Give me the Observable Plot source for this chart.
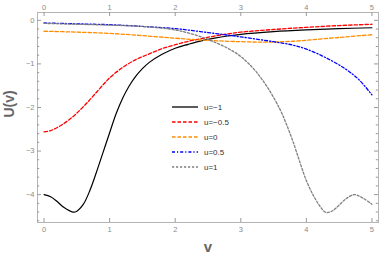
<!DOCTYPE html>
<html><head><meta charset="utf-8">
<script src="https://cdn.jsdelivr.net/npm/d3@7"></script>
<script src="https://cdn.jsdelivr.net/npm/@observablehq/plot@0.6"></script>
<style>
body{margin:0;background:#fff;font-family:"Liberation Sans",Arial,sans-serif;}
#wrap{position:relative;width:382px;height:262px;}
#legend{position:absolute;left:0;top:0;}
</style></head>
<body><div id="wrap"></div>
<script>
const seriesNames = ["u=\u22121","u=\u22120.5","u=0","u=0.5","u=1"];
const seriesColors = ["#000000","#ff0000","#ff8c00","#0000ff","#808080"];
const seriesDash = [null,"3.5,2","3.5,2","3,2,1.2,2","2.2,1.8"];

const vA = [0,0.1,0.2,0.3,0.44,0.5,0.6,0.7,0.8,0.9,1.0,1.1,1.2,1.3,1.4,1.5,1.6,1.8,2.0,2.2,2.4,2.6,2.8,3.0,3.5,4.0,4.5,5.0];
const uA = [-4.0,-4.05,-4.16,-4.29,-4.40,-4.38,-4.22,-3.90,-3.48,-3.03,-2.58,-2.14,-1.78,-1.50,-1.28,-1.11,-0.97,-0.78,-0.64,-0.55,-0.47,-0.41,-0.36,-0.32,-0.26,-0.22,-0.19,-0.17];

const vB = [0,0.1,0.2,0.3,0.4,0.5,0.6,0.7,0.8,0.9,1.0,1.2,1.4,1.62,1.8,2.0,2.2,2.4,2.6,2.8,3.0,3.5,4.0,4.5,5.0];
const uB = [-2.56,-2.53,-2.46,-2.37,-2.26,-2.13,-1.98,-1.82,-1.65,-1.48,-1.32,-1.08,-0.90,-0.76,-0.65,-0.56,-0.48,-0.42,-0.36,-0.31,-0.27,-0.21,-0.16,-0.12,-0.09];

const vC = [0,0.5,1,1.5,2,2.5,3,3.4,3.8,4.2,4.6,5];
const uC = [-0.25,-0.27,-0.30,-0.35,-0.41,-0.46,-0.49,-0.50,-0.48,-0.43,-0.38,-0.33];

const vD = [0,0.5,1,1.5,2,2.5,3,3.5,3.8,4.0,4.3,4.6,4.8,5];
const uD = [-0.06,-0.08,-0.10,-0.14,-0.19,-0.28,-0.38,-0.49,-0.57,-0.66,-0.86,-1.12,-1.36,-1.71];

const vE = [0,0.5,1,1.5,2,2.2,2.4,2.6,2.8,3.0,3.2,3.4,3.6,3.7,3.8,3.9,4.0,4.1,4.2,4.3,4.4,4.5,4.6,4.73,4.85,5.0];
const uE = [-0.07,-0.09,-0.11,-0.14,-0.22,-0.29,-0.38,-0.50,-0.64,-0.83,-1.12,-1.52,-2.05,-2.40,-2.80,-3.25,-3.68,-4.00,-4.25,-4.41,-4.37,-4.24,-4.10,-4.00,-4.07,-4.22];

const xTicks = [0,1,2,3,4,5];
const yTicks = [0,-1,-2,-3,-4];
const yMinor = d3.range(0,24).map(i => -i*0.2).filter(v => Math.abs(v - Math.round(v)) > 1e-6);

const allV = [vA,vB,vC,vD,vE];
const allU = [uA,uB,uC,uD,uE];

const W = 382, H = 262, mL = 37, mR = 4, mT = 12, mB = 40;
const iW = W - mL - mR, iH = H - mT - mB;

const lines = allV.map((vs, s) => Plot.line(vs.map((v,i)=>({v, u: allU[s][i]})), {
  x: "v", y: "u", stroke: seriesColors[s], strokeWidth: s===0 ? 1.2 : 1.3,
  strokeDasharray: seriesDash[s], curve: "catmull-rom"
}));

const tickCol = "#9a9a9a";
const chart = Plot.plot({
  width: W, height: H,
  marginLeft: mL, marginRight: mR, marginTop: mT, marginBottom: mB,
  x: {domain: [-0.1, 5.1]},
  y: {domain: [-4.64, 0.18]},
  style: {fontFamily: "'Liberation Sans', Arial, sans-serif", background: "#fff"},
  marks: [
    Plot.frame({stroke: "#b4b4b4", strokeWidth: 1}),
    Plot.tickY(yTicks, {stroke: tickCol, insetRight: iW - 4}),
    Plot.tickY(yTicks, {stroke: tickCol, insetLeft: iW - 4}),
    Plot.tickY(yMinor, {stroke: tickCol, insetRight: iW - 2.2}),
    Plot.tickY(yMinor, {stroke: tickCol, insetLeft: iW - 2.2}),
    Plot.tickX(xTicks, {stroke: tickCol, insetBottom: iH - 4}),
    Plot.tickX(xTicks, {stroke: tickCol, insetTop: iH - 4}),
    Plot.axisY(yTicks, {anchor: "left", tickSize: 0, tickPadding: 3, label: null, fontSize: 7.5, color: "#8a8a8a", tickFormat: d => d === 0 ? "0" : "\u2212" + Math.abs(d)}),
    Plot.axisX(xTicks, {anchor: "top", tickSize: 0, tickPadding: 3, label: null, fontSize: 7.5, color: "#8a8a8a", tickFormat: d => String(d)}),
    Plot.axisX(xTicks, {anchor: "bottom", tickSize: 0, tickPadding: 4, label: null, fontSize: 7.5, color: "#8a8a8a", tickFormat: d => String(d)}),
    ...lines,
    Plot.text(["U(v)"], {text: d => d, frameAnchor: "left", dx: -28, rotate: -90, fontSize: 14, fontWeight: "bold", fill: "#666"}),
    Plot.text(["v"], {text: d => d, frameAnchor: "bottom", dy: 29, fontSize: 15, fontWeight: "bold", fill: "#666"})
  ]
});
const wrap = document.getElementById("wrap");
wrap.appendChild(chart);

const leg = d3.select(wrap).append("svg").attr("id","legend").attr("width", W).attr("height", H);
const lx = 172, ly = 107, dy = 15;
seriesNames.forEach((name, i) => {
  const g = leg.append("g").attr("transform", `translate(${lx},${ly + i*dy})`);
  g.append("line").attr("x1",0).attr("x2",26).attr("y1",0).attr("y2",0)
    .attr("stroke", i===0 ? "#333" : seriesColors[i]).attr("stroke-width", i===0 ? 1.6 : 1.5)
    .attr("stroke-dasharray", seriesDash[i]);
  g.append("text").attr("x", 32).attr("y", 0).attr("dy","0.35em")
    .attr("font-size", 8).attr("fill", "#333").attr("font-family","'Liberation Sans', Arial, sans-serif").text(name);
});
</script></body></html>
